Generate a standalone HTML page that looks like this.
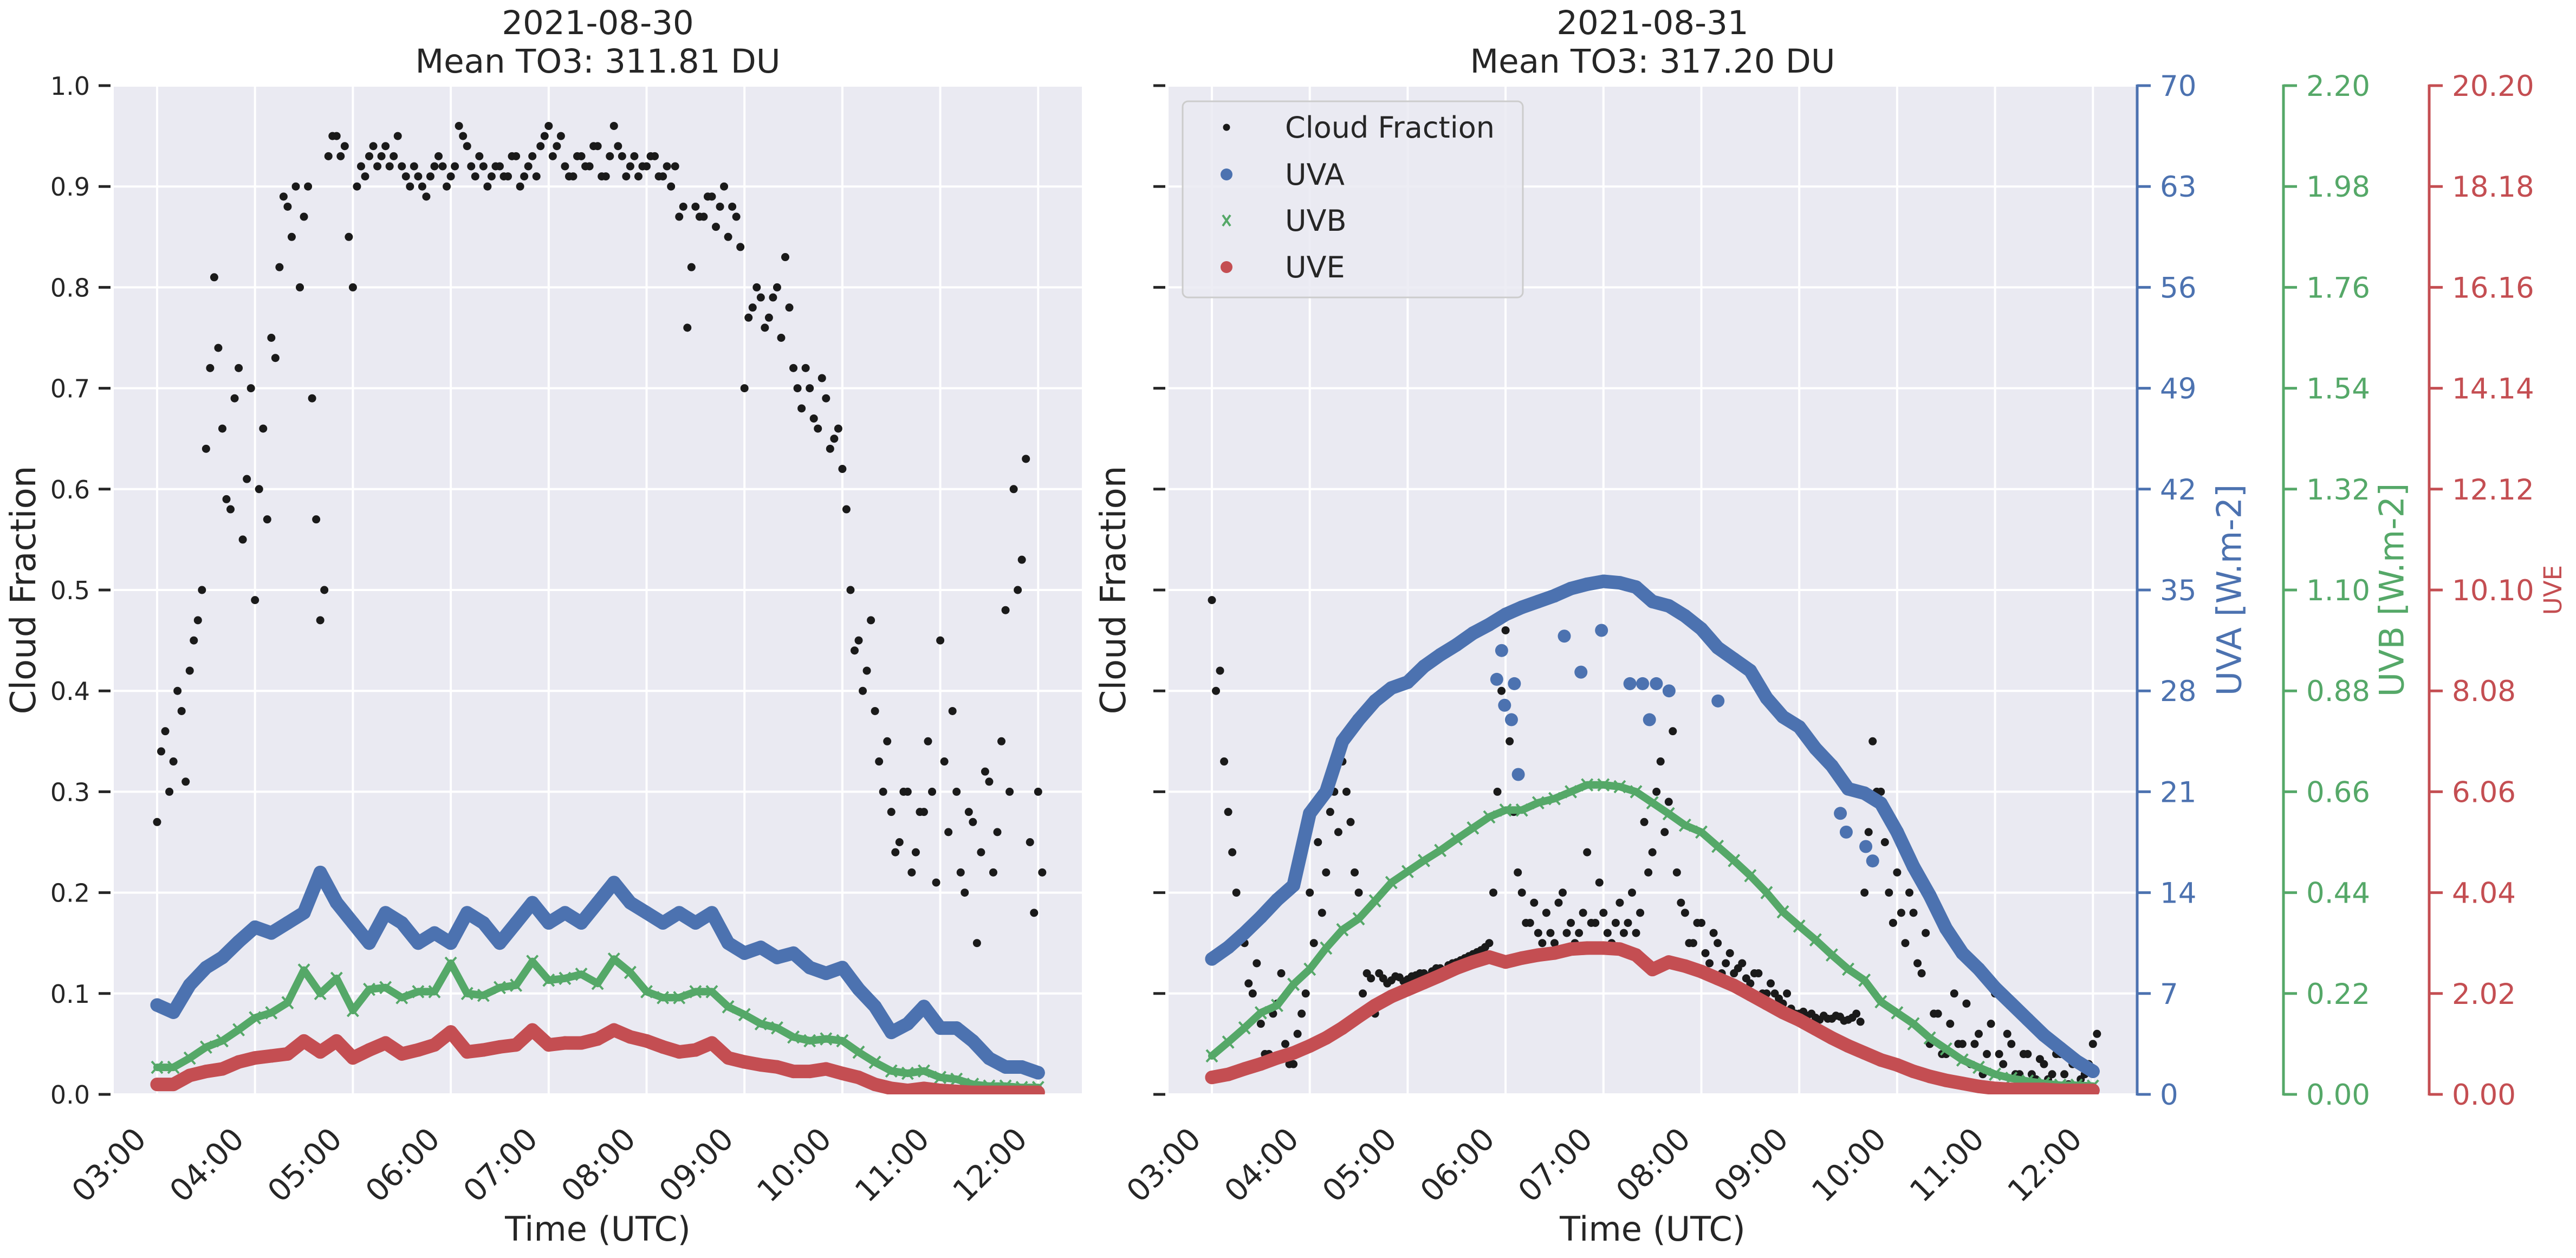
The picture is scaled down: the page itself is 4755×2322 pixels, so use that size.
<!DOCTYPE html>
<html><head><meta charset="utf-8"><style>
html,body{margin:0;padding:0;background:#fff;}
svg{display:block;font-family:"DejaVu Sans","Liberation Sans",sans-serif;}
</style></head><body>
<svg id="fig" width="4755" height="2322" viewBox="0 0 4755 2322" xmlns="http://www.w3.org/2000/svg"></svg>
<script>
// ---------- data ----------
const hourTicks = ["03:00","04:00","05:00","06:00","07:00","08:00","09:00","10:00","11:00","12:00"];
const cfTicks = ["0.0","0.1","0.2","0.3","0.4","0.5","0.6","0.7","0.8","0.9","1.0"];
const uvaTicks = ["0","7","14","21","28","35","42","49","56","63","70"];
const uvbTicks = ["0.00","0.22","0.44","0.66","0.88","1.10","1.32","1.54","1.76","1.98","2.20"];
const uveTicks = ["0.00","2.02","4.04","6.06","8.08","10.10","12.12","14.14","16.16","18.18","20.20"];
const dayTitles = ["2021-08-30","2021-08-31"];
const meanTO3 = ["Mean TO3: 311.81 DU","Mean TO3: 317.20 DU"];

// cloud fraction, 5-min steps from 03:00 (two samples per step)
const cfA_day1 = [0.27,0.36,0.33,0.38,0.42,0.47,0.64,0.81,0.66,0.58,0.72,0.61,
0.49,0.66,0.75,0.82,0.88,0.9,0.87,0.69,0.47,0.93,0.95,0.94,
0.8,0.92,0.93,0.92,0.94,0.93,0.92,0.9,0.91,0.89,0.92,0.92,
0.91,0.96,0.94,0.91,0.92,0.91,0.92,0.91,0.93,0.91,0.93,0.94,
0.96,0.94,0.92,0.91,0.93,0.92,0.94,0.91,0.96,0.93,0.92,0.91,
0.92,0.93,0.91,0.9,0.87,0.76,0.88,0.87,0.89,0.88,0.85,0.87,
0.7,0.78,0.79,0.77,0.8,0.83,0.72,0.68,0.7,0.66,0.69,0.65,
0.62,0.5,0.45,0.42,0.38,0.3,0.28,0.25,0.3,0.24,0.28,0.3,
0.45,0.26,0.3,0.2,0.27,0.24,0.31,0.26,0.48,0.6,0.53,0.25,0.3];
const cfB_day1 = [0.34,0.3,0.4,0.31,0.45,0.5,0.72,0.74,0.59,0.69,0.55,0.7,
0.6,0.57,0.73,0.89,0.85,0.8,0.9,0.57,0.5,0.95,0.93,0.85,
0.9,0.91,0.94,0.93,0.92,0.95,0.91,0.92,0.9,0.91,0.93,0.9,
0.92,0.95,0.92,0.93,0.9,0.92,0.91,0.93,0.9,0.92,0.91,0.95,
0.93,0.95,0.91,0.93,0.92,0.94,0.91,0.93,0.94,0.91,0.93,0.92,
0.93,0.91,0.92,0.92,0.88,0.82,0.87,0.89,0.86,0.9,0.88,0.84,
0.77,0.8,0.76,0.79,0.75,0.78,0.7,0.72,0.67,0.71,0.64,0.66,
0.58,0.44,0.4,0.47,0.33,0.35,0.24,0.3,0.22,0.28,0.35,0.21,
0.33,0.38,0.22,0.28,0.15,0.32,0.22,0.35,0.3,0.5,0.63,0.18,0.22];
const cfA_day2 = [0.49,0.42,0.28,0.2,0.15,0.1,0.07,0.04,0.09,0.05,0.03,0.08,
0.2,0.25,0.22,0.3,0.33,0.27,0.2,0.12,0.08,0.115,0.113,0.116,
0.114,0.118,0.12,0.122,0.125,0.128,0.131,0.135,0.139,0.143,0.15,0.3,
0.46,0.28,0.2,0.17,0.16,0.18,0.15,0.2,0.17,0.16,0.24,0.17,
0.18,0.15,0.19,0.17,0.16,0.27,0.24,0.33,0.29,0.22,0.18,0.15,
0.17,0.13,0.15,0.13,0.12,0.13,0.11,0.12,0.1,0.1,0.09,0.085,
0.08,0.078,0.076,0.078,0.075,0.077,0.074,0.08,0.2,0.35,0.3,0.2,
0.22,0.15,0.18,0.12,0.05,0.08,0.04,0.1,0.05,0.03,0.06,0.04,
0.1,0.03,0.05,0.02,0.04,0.015,0.03,0.02,0.04,0.01,0.03,0.02,0.05];
const cfB_day2 = [0.4,0.33,0.24,0.16,0.11,0.13,0.04,0.08,0.12,0.03,0.06,0.1,
0.15,0.18,0.28,0.26,0.3,0.22,0.1,0.115,0.12,0.11,0.117,0.112,
0.117,0.12,0.117,0.125,0.123,0.13,0.133,0.137,0.141,0.146,0.2,0.4,
0.35,0.22,0.17,0.19,0.15,0.16,0.19,0.16,0.15,0.18,0.17,0.21,
0.16,0.17,0.16,0.2,0.18,0.22,0.3,0.26,0.36,0.19,0.15,0.17,
0.14,0.16,0.12,0.14,0.125,0.115,0.12,0.1,0.11,0.095,0.1,0.08,
0.082,0.08,0.074,0.075,0.078,0.073,0.076,0.072,0.26,0.3,0.25,0.17,
0.18,0.2,0.13,0.16,0.08,0.04,0.07,0.05,0.09,0.05,0.02,0.07,
0.04,0.06,0.02,0.04,0.02,0.035,0.015,0.04,0.02,0.03,0.015,0.03,0.06];

// UV irradiance, 10-min steps from 03:00
const uva_day1 = [6.2,5.7,7.6,8.8,9.5,10.6,11.6,11.2,11.9,12.6,15.4,13.3,11.9,10.5,12.6,11.9,10.5,11.2,10.5,12.6,11.9,10.5,11.9,13.3,11.9,12.6,11.9,13.3,14.7,13.3,12.6,11.9,12.6,11.9,12.6,10.5,9.8,10.2,9.5,9.8,8.8,8.4,8.8,7.3,6.1,4.3,4.9,6.1,4.6,4.6,3.7,2.5,1.9,1.9,1.5];
const uvb_day1 = [0.059,0.059,0.079,0.103,0.117,0.141,0.167,0.178,0.2,0.271,0.22,0.253,0.183,0.229,0.233,0.211,0.224,0.224,0.286,0.22,0.216,0.233,0.238,0.29,0.249,0.253,0.262,0.242,0.295,0.266,0.224,0.211,0.211,0.224,0.224,0.191,0.174,0.154,0.145,0.125,0.117,0.121,0.117,0.092,0.07,0.051,0.046,0.051,0.037,0.033,0.022,0.018,0.018,0.015,0.015];
const uve_day1 = [0.2,0.2,0.38,0.46,0.51,0.65,0.73,0.77,0.81,1.07,0.85,1.07,0.73,0.89,1.03,0.81,0.89,0.99,1.25,0.85,0.89,0.95,0.99,1.29,0.99,1.03,1.03,1.11,1.29,1.15,1.07,0.95,0.85,0.89,1.03,0.73,0.65,0.59,0.55,0.46,0.46,0.51,0.42,0.34,0.2,0.12,0.08,0.12,0.08,0.06,0.04,0.04,0.04,0.04,0.04];
const uva_day2 = [9.4,10.2,11.2,12.3,13.5,14.5,19.5,21,24.5,26,27.3,28.2,28.6,29.7,30.5,31.2,32,32.6,33.3,33.8,34.2,34.6,35.1,35.4,35.6,35.5,35.2,34.2,33.9,33.2,32.3,31,30.2,29.4,27.5,26.2,25.5,24,22.8,21.2,20.9,20.2,18.2,15.8,13.8,11.5,9.8,8.7,7.4,6.3,5.2,4.1,3.2,2.3,1.6];
const uvb_day2 = [0.084,0.114,0.145,0.178,0.194,0.24,0.273,0.319,0.359,0.383,0.422,0.462,0.486,0.51,0.532,0.557,0.581,0.605,0.62,0.62,0.636,0.645,0.66,0.675,0.675,0.671,0.66,0.636,0.612,0.587,0.572,0.541,0.51,0.477,0.44,0.398,0.367,0.337,0.304,0.273,0.249,0.202,0.178,0.154,0.123,0.099,0.075,0.059,0.044,0.035,0.029,0.024,0.02,0.02,0.018];
const uve_day2 = [0.34,0.4,0.51,0.61,0.73,0.83,0.97,1.13,1.33,1.56,1.78,1.96,2.1,2.24,2.38,2.53,2.65,2.75,2.65,2.73,2.79,2.83,2.91,2.93,2.93,2.91,2.79,2.5,2.65,2.57,2.46,2.32,2.18,2.0,1.82,1.64,1.49,1.31,1.13,0.97,0.83,0.69,0.59,0.46,0.36,0.28,0.22,0.16,0.12,0.1,0.1,0.1,0.08,0.08,0.08];
// cloud-induced UVA dips on day 2 (hour, W.m-2)
const uvaDipHours = [5.91,5.96,5.99,6.06,6.09,6.13,6.6,6.77,6.98,7.27,7.4,7.54,7.47,7.67,8.17,9.42,9.48,9.68,9.75];
const uvaDipValues = [28.8,30.8,27,26,28.5,22.2,31.8,29.3,32.2,28.5,28.5,28.5,26,28,27.3,19.5,18.2,17.2,16.2];

// ---------- helpers ----------
const NS = "http://www.w3.org/2000/svg";
const svg = document.getElementById("fig");
const C = {bg:"#EAEAF2", blue:"#4C72B0", green:"#55A868", red:"#C44E52", black:"#1a1a1a", text:"#262626"};
const TOP = 158, BOT = 2020, PW = 1787;
const panels = [210, 2157];
const UVA_MAX = 70, UVB_MAX = 2.2, UVE_MAX = 20.2;
function mk(tag, attrs, parent){const e=document.createElementNS(NS,tag);for(const k in attrs)e.setAttribute(k,attrs[k]);(parent||svg).appendChild(e);return e;}
function xS(p, h){return panels[p] + 80 + (h-3)*180.7;}
function yS(f){return BOT - f*(BOT-TOP);}
function txt(x,y,s,size,fill,anchor,parent,extra){const t=mk("text",Object.assign({x:x,y:y,"font-size":size,fill:fill,"text-anchor":anchor||"start"},extra||{}),parent);t.textContent=s;return t;}

for (let p=0;p<2;p++){
  const L = panels[p];
  const g = mk("g",{});
  
  
  const bg = mk("rect",{x:L,y:TOP,width:PW,height:BOT-TOP,fill:C.bg},g);
  
  
  for (let i=0;i<cfTicks.length;i++){
    const y=yS(i/10);
    const gl=mk("line",{x1:L,x2:L+PW,y1:y,y2:y,stroke:"#fff","stroke-width":4},g);
    
    
    const tk=mk("line",{x1:L-28,x2:L-6,y1:y,y2:y,stroke:C.text,"stroke-width":5},g);
    
    
    if (p===0){
      const tl=txt(L-44,y+17,cfTicks[i],46,C.text,"end",g);
      
      
    }
  }
  for (let i=0;i<hourTicks.length;i++){
    const x=xS(p,3+i);
    const gl=mk("line",{x1:x,x2:x,y1:TOP,y2:BOT,stroke:"#fff","stroke-width":4},g);
    
    
    const tl=txt(0,0,hourTicks[i],57,C.text,"end",g,{transform:"translate("+(x-17)+",2106) rotate(-45)"});
    
    
  }
  const cx = L+PW/2;
  const t1=txt(cx,63,dayTitles[p],61,C.text,"middle",g);
  
  
  const t2=txt(cx,134,meanTO3[p],61,C.text,"middle",g);
  
  
  const xl=txt(cx,2290,"Time (UTC)",62,C.text,"middle",g);
  
  
  const ylBase = p===0 ? L-145 : L-80;
  const yl=txt(0,0,"Cloud Fraction",64,C.text,"middle",g,{transform:"translate("+ylBase+","+((TOP+BOT)/2)+") rotate(-90)"});
  
  

  const cfA = p===0?cfA_day1:cfA_day2, cfB = p===0?cfB_day1:cfB_day2;
  const uva = p===0?uva_day1:uva_day2, uvb = p===0?uvb_day1:uvb_day2, uve = p===0?uve_day1:uve_day2;
  const clip = "clip"+p;
  const cp = mk("clipPath",{id:clip},g); mk("rect",{x:L,y:TOP,width:PW,height:BOT-TOP},cp);
  const sg = mk("g",{"clip-path":"url(#"+clip+")"},g);
  const cg = mk("g",{fill:C.black},sg);
  
  
  for (let i=0;i<cfA.length;i++){
    const d1=mk("circle",{cx:xS(p,3+i/12),cy:yS(cfA[i]),r:7.5},cg);
    
    
    const d2=mk("circle",{cx:xS(p,3+i/12+1/24),cy:yS(cfB[i]),r:7.5},cg);
    
    
  }
  function series(vals,max,color,name,width,marker){
    const sgr = mk("g",{},sg);
    
    
    const pts = vals.map((v,i)=>xS(p,3+i/6).toFixed(1)+","+yS(v/max).toFixed(1)).join(" ");
    mk("polyline",{points:pts,fill:"none",stroke:color,"stroke-width":width,"stroke-linejoin":"round","stroke-linecap":"round"},sgr);
    vals.forEach((v,i)=>{
      const x=xS(p,3+i/6), y=yS(v/max);
      if (marker==="x"){
        const m=mk("path",{d:"M"+(x-10)+","+(y-11)+"L"+(x+10)+","+(y+11)+"M"+(x+10)+","+(y-11)+"L"+(x-10)+","+(y+11),stroke:color,"stroke-width":4,fill:"none"},sgr);
        
        
      } else {
        const m=mk("circle",{cx:x,cy:y,r:12.5,fill:color},sgr);
        
        
      }
    });
    return sgr;
  }
  const ua = series(uva,UVA_MAX,C.blue,"uva-series",25,"o");
  if (p===1){
    uvaDipHours.forEach((h,i)=>{
      const m=mk("circle",{cx:xS(p,h),cy:yS(uvaDipValues[i]/UVA_MAX),r:12,fill:C.blue},ua);
      
      
    });
  }
  series(uvb,UVB_MAX,C.green,"uvb-series",14,"x");
  series(uve,UVE_MAX,C.red,"uve-series",25,"o");
}

const axes = [
  {x:3945, color:C.blue, ticks:uvaTicks, label:"UVA [W.m-2]", lx:4115, size:62, name:"uva-axis"},
  {x:4215, color:C.green, ticks:uvbTicks, label:"UVB [W.m-2]", lx:4415, size:62, name:"uvb-axis"},
  {x:4484, color:C.red, ticks:uveTicks, label:"UVE", lx:4712, size:45, name:"uve-axis"}
];
axes.forEach(a=>{
  const g = mk("g",{});
  
  
  mk("line",{x1:a.x,x2:a.x,y1:TOP-2,y2:BOT+2,stroke:a.color,"stroke-width":5},g);
  a.ticks.forEach((t,i)=>{
    const y=yS(i/10);
    mk("line",{x1:a.x,x2:a.x+25,y1:y,y2:y,stroke:a.color,"stroke-width":5},g);
    const tl=txt(a.x+42,y+19,t,53,a.color,"start",g);
    
    
  });
  const lb=txt(0,0,a.label,a.size,a.color,"middle",g,{transform:"translate("+(a.lx+a.size*0.35)+","+((TOP+BOT)/2)+") rotate(-90)"});
  
  
});

const lg = mk("g",{});


mk("rect",{x:2183,y:187,width:628,height:362,rx:10,fill:"#EAEAF2","fill-opacity":0.85,stroke:"#cccccc","stroke-width":3},lg);
const legNames = ["Cloud Fraction","UVA","UVB","UVE"];
const legY = [235,322,407,493];
legNames.forEach((n,i)=>{
  const y=legY[i];
  let m;
  if (i===0) m=mk("circle",{cx:2264,cy:y,r:6.5,fill:C.black},lg);
  else if (i===2) m=mk("path",{d:"M2257,"+(y-10)+"L2271,"+(y+10)+"M2271,"+(y-10)+"L2257,"+(y+10),stroke:C.green,"stroke-width":4},lg);
  else m=mk("circle",{cx:2264,cy:y,r:11,fill:i===1?C.blue:C.red},lg);
  
  
  const t=txt(2372,y+19,n,54,C.text,"start",lg);
  
  
});
</script>
</body></html>
